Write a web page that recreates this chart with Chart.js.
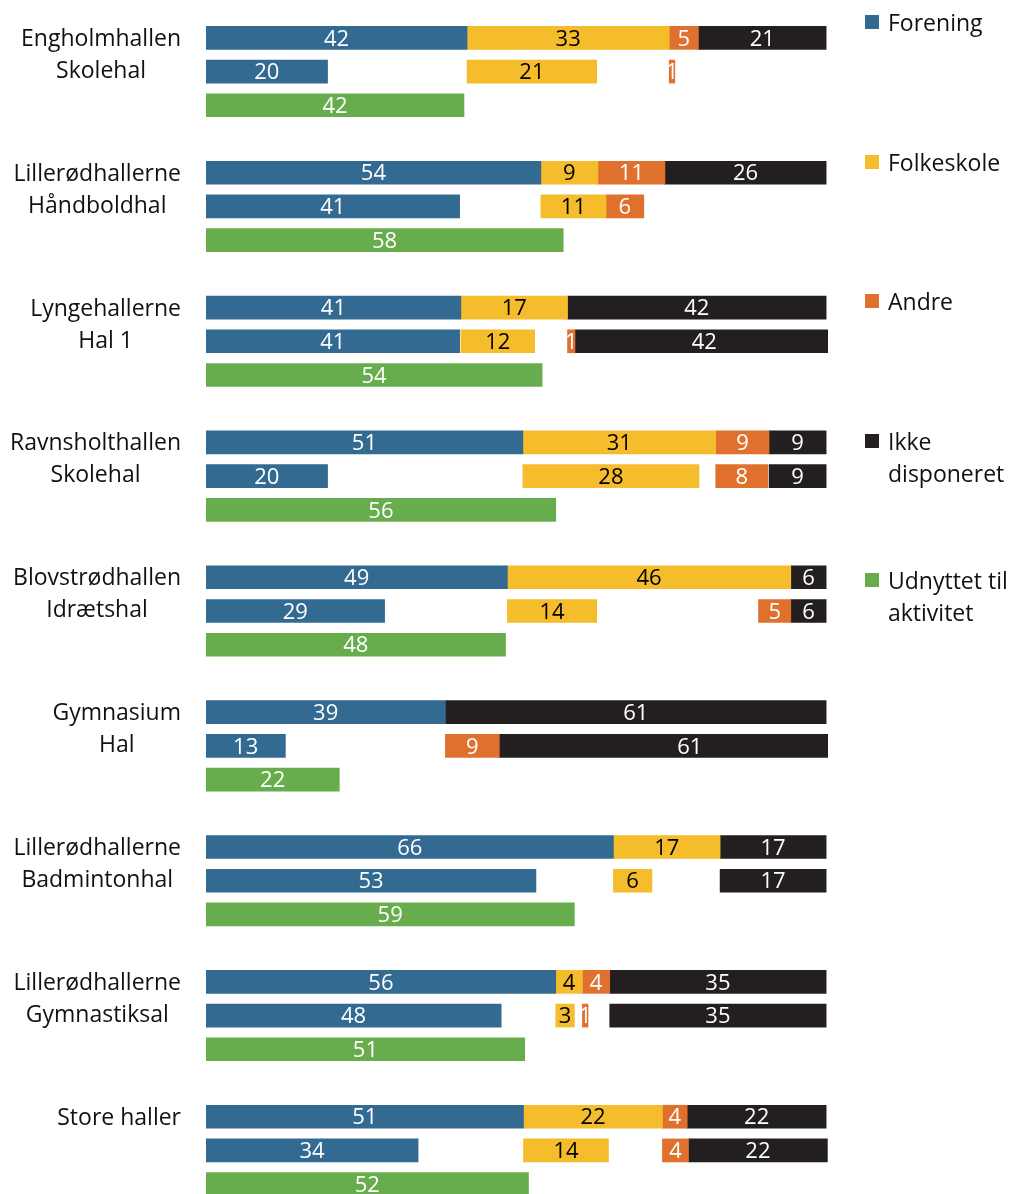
<!DOCTYPE html>
<html><head><meta charset="utf-8">
<script src="https://cdn.jsdelivr.net/npm/chart.js@4.4.1/dist/chart.umd.min.js"></script>
<style>
html,body{margin:0;padding:0;width:1016px;height:1194px;overflow:hidden;background:#fff;}
#wrap{position:relative;width:1016px;height:1202px;}
#legend{position:absolute;left:865px;top:0;font-family:'Open Sans';font-size:23px;color:#111;}
.li{position:absolute;left:0;width:151px;}
.sw{position:absolute;left:0;top:9px;width:14px;height:14px;}
.lt{position:absolute;left:23px;top:0;white-space:pre;line-height:32px;}
</style></head>
<body><div id="wrap"><canvas id="c" width="1016" height="1202"></canvas><div id="legend"></div></div>
<script>
// ---- data ----
const halls = [["Engholmhallen","Skolehal"],["Lillerødhallerne","Håndboldhal"],["Lyngehallerne","Hal 1"],["Ravnsholthallen","Skolehal"],["Blovstrødhallen","Idrætshal"],["Gymnasium","Hal"],["Lillerødhallerne","Badmintonhal"],["Lillerødhallerne","Gymnastiksal"],["Store haller"]];
const seriesNames = ["Forening","Folkeskole","Andre","Ikke\ndisponeret","Udnyttet til\naktivitet"];
// row 1: fordeling (sum 100)
const forening1   = [42.1, 54.0, 41.1, 51.1, 48.6, 38.6, 65.7, 56.4, 51.2];
const folkeskole1 = [32.6,  9.2, 17.2, 31.1, 45.7,  0.0, 17.2,  4.3, 22.4];
const andre1      = [ 4.7, 10.8,  0.0,  8.6,  0.0,  0.0,  0.0,  4.4,  4.0];
const ikke1       = [20.6, 26.0, 41.7,  9.2,  5.7, 61.4, 17.1, 34.9, 22.4];
// row 2: faktisk brug
const forening2   = [19.6, 40.9, 40.9, 19.6, 28.8, 12.8, 53.2, 47.6, 34.2];
const folkeskole2 = [20.9, 10.5, 11.9, 28.4, 14.4,  0.0,  6.2,  3.0, 13.7];
const andre2      = [ 0.9,  6.1,  1.2,  8.4,  5.2,  8.7,  0.0,  0.9,  4.2];
const ikke2       = [ 0.0,  0.0, 41.7,  9.2,  5.7, 61.4, 17.1, 34.9, 22.4];
const andre2EndAligned = [false,false,false,false,true,false,false,false,false];
// row 3
const udnyttet    = [41.6, 57.6, 54.2, 56.4, 48.3, 21.5, 59.4, 51.4, 52.0];

const colors = ["#336A92","#F5BC2B","#E0702D","#231F20","#68AD4D"];
const textColors = ["#ffffff","#000000","#ffffff","#ffffff","#ffffff"];

// ---- build ----
const SLOTS = 4, N = halls.length*SLOTS - 1;
const yLabels = Array.from({length:N}, () => "");
const mk = () => Array.from({length:N}, () => null);
const ranges = [mk(),mk(),mk(),mk(),mk()];
const vals = [mk(),mk(),mk(),mk(),mk()];
const r1 = [forening1, folkeskole1, andre1, ikke1];
const r2 = [forening2, folkeskole2, andre2, ikke2];
halls.forEach((h, g) => {
  const i1 = g*SLOTS, i2 = i1+1, i3 = i1+2;
  let cum = 0; const starts = [];
  for (let k=0;k<4;k++){ const v=r1[k][g]; starts.push(cum); if (v>0){ ranges[k][i1]=[cum,cum+v]; vals[k][i1]=v; } cum+=v; }
  let prevEnd = 0;
  for (let k=0;k<4;k++){
    const v=r2[k][g];
    if (v<=0) continue;
    let s = Math.max(starts[k], prevEnd);
    if (k===2 && andre2EndAligned[g]) s = starts[3]-v;
    ranges[k][i2]=[s,s+v]; vals[k][i2]=v; prevEnd = s+v;
  }
  ranges[4][i3]=[0,udnyttet[g]]; vals[4][i3]=udnyttet[g];
});

const labelPlugin = {
  id:'barLabels',
  afterDatasetsDraw(chart){
    const ctx = chart.ctx;
    ctx.save();
    ctx.font = "22px 'Open Sans'";
    ctx.textAlign = 'center'; ctx.textBaseline = 'middle';
    chart.data.datasets.forEach((ds, di) => {
      const meta = chart.getDatasetMeta(di);
      meta.data.forEach((bar, j) => {
        const v = vals[di][j];
        if (v == null || v <= 0) return;
        ctx.fillStyle = textColors[di];
        ctx.fillText(String(Math.round(v)), (bar.x + bar.base)/2, bar.y + 1.5);
      });
    });
    ctx.restore();
  }
};
const hallPlugin = {
  id:'hallLabels',
  afterDraw(chart){
    const ctx = chart.ctx, ys = chart.scales.y;
    ctx.save();
    ctx.font = "23px 'Open Sans'";
    ctx.fillStyle = '#111';
    ctx.textAlign = 'center'; ctx.textBaseline = 'middle';
    halls.forEach((lines, g) => {
      const y0 = ys.getPixelForValue(g*SLOTS);
      const w = Math.max(...lines.map(l => ctx.measureText(l).width));
      const cx = 181 - w/2;
      lines.forEach((l, k) => ctx.fillText(l, cx, y0 + 1.5 + k*32));
    });
    ctx.restore();
  }
};

new Chart(document.getElementById('c'), {
  type:'bar',
  data:{
    labels:yLabels,
    datasets: seriesNames.map((n, k) => ({
      label:n, data:ranges[k], backgroundColor:colors[k], borderWidth:0,
      grouped:false, barThickness:23, clip:0
    }))
  },
  options:{
    indexAxis:'y', responsive:false, animation:false,
    layout:{padding:{left:206,right:188,top:21,bottom:1}},
    scales:{
      x:{type:'linear',min:0,max:100.3,display:false},
      y:{type:'category',display:false}
    },
    plugins:{legend:{display:false},tooltip:{enabled:false}}
  },
  plugins:[labelPlugin, hallPlugin]
});

// legend
const lg = document.getElementById('legend');
seriesNames.forEach((n, k) => {
  const d = document.createElement('div'); d.className='li'; d.style.top = (6 + k*139.5) + 'px';
  const s = document.createElement('div'); s.className='sw'; s.style.background = colors[k];
  const t = document.createElement('div'); t.className='lt'; t.textContent = n;
  d.appendChild(s); d.appendChild(t); lg.appendChild(d);
});
</script>
</body></html>
